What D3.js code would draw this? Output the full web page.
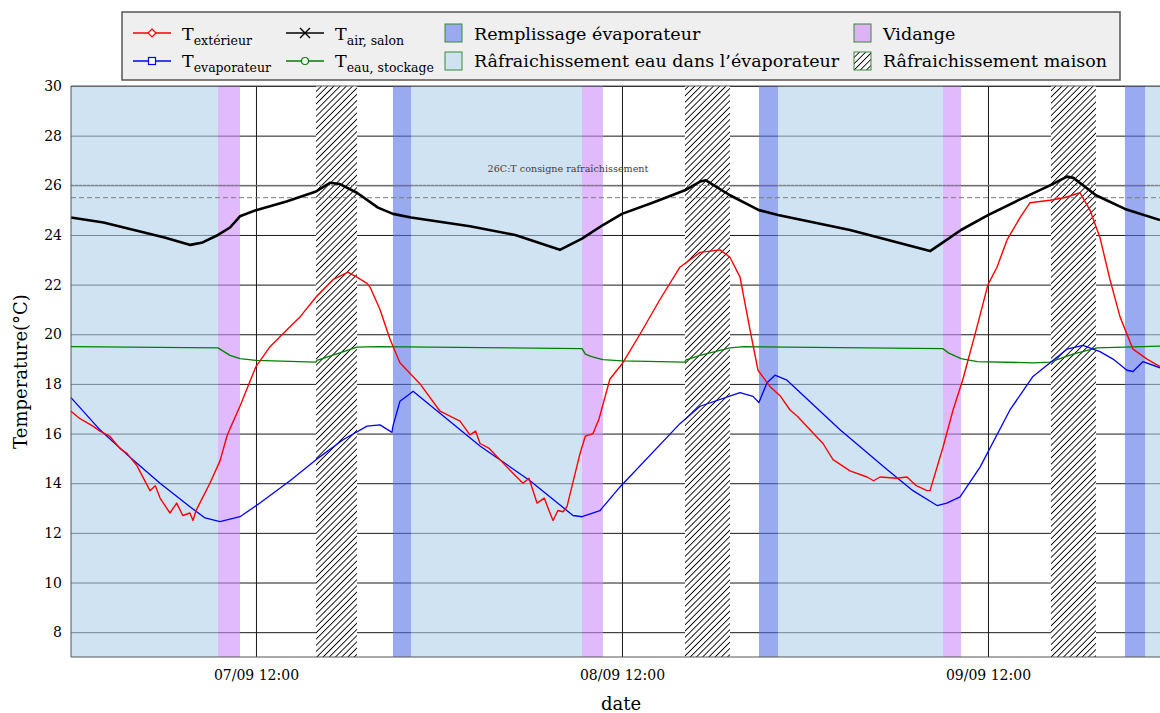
<!DOCTYPE html>
<html><head><meta charset="utf-8">
<script src="https://cdn.jsdelivr.net/npm/d3@7"></script>
<style>body{margin:0;background:#fff} svg{display:block} text{font-family:"DejaVu Serif",serif}</style>
</head><body><svg id="c" width="1160" height="713"></svg>
<script>
// ---------- DATA (hours since 07/09 00:00) ----------
const xDomainHours = [-0.13, 71.28];
const yDomain = [7, 30];
const yTickValues = [8, 10, 12, 14, 16, 18, 20, 22, 24, 26, 28, 30];
const xTickHours = [12, 36, 60];
const xTickLabels = ["07/09 12:00", "08/09 12:00", "09/09 12:00"];

const tExterieur = [[-0.13,16.9],[0.46,16.6],[1.31,16.3],[1.77,16.1],[2.4,15.9],[3.08,15.4],[3.54,15.2],[4.2,14.7],[5.05,13.7],[5.4,13.9],[5.71,13.4],[6.36,12.8],[6.8,13.2],[7.2,12.7],[7.67,12.8],[7.87,12.5],[8.07,12.9],[8.4,13.3],[8.98,14.0],[9.64,14.9],[10.1,15.9],[10.3,16.2],[10.95,17.1],[12.0,18.7],[12.92,19.5],[14.23,20.3],[14.89,20.7],[15.94,21.5],[17.05,22.2],[18.03,22.5],[18.3,22.4],[18.62,22.3],[19.28,22.05],[19.48,21.9],[20.13,21.0],[20.79,19.8],[21.44,18.85],[22.76,18.0],[24.07,16.9],[25.38,16.5],[26.03,15.95],[26.4,16.1],[26.69,15.6],[27.3,15.4],[28.0,14.95],[28.85,14.4],[29.51,14.0],[29.9,14.2],[30.43,13.2],[30.9,13.4],[31.28,12.8],[31.48,12.5],[31.8,12.9],[32.13,12.85],[32.39,13.05],[33.25,15.2],[33.6,15.9],[34.1,16.0],[34.5,16.6],[35.21,18.2],[36.0,18.8],[37.18,20.0],[38.49,21.4],[39.8,22.7],[41.12,23.3],[42.43,23.4],[43.08,23.1],[43.74,22.3],[44.39,20.2],[44.92,18.55],[45.7,17.9],[46.4,17.5],[47.02,16.95],[47.5,16.7],[48.33,16.15],[49.18,15.6],[49.84,14.95],[50.95,14.5],[52.07,14.25],[52.5,14.1],[52.92,14.25],[54.0,14.2],[54.69,14.25],[55.3,13.9],[56.0,13.7],[56.2,13.7],[57.05,15.45],[57.71,16.95],[58.36,18.2],[59.28,20.3],[60.0,22.0],[60.59,22.7],[61.25,23.8],[62.1,24.7],[62.76,25.3],[64.07,25.4],[65.0,25.5],[66.03,25.7],[66.69,25.0],[67.34,23.9],[68.0,22.2],[68.66,20.7],[69.51,19.4],[70.43,19.0],[71.28,18.7]];

const tEvaporateur = [[-0.13,17.45],[1.77,16.15],[3.74,15.05],[5.71,14.0],[7.67,13.05],[8.66,12.6],[9.64,12.45],[10.95,12.65],[12.26,13.2],[14.23,14.1],[15.94,14.95],[17.71,15.75],[19.28,16.3],[20.13,16.35],[20.92,16.05],[20.98,16.3],[21.44,17.3],[22.1,17.6],[22.3,17.7],[26.69,15.5],[29.97,14.1],[32.79,12.7],[33.38,12.65],[34.56,12.9],[35.87,13.85],[39.8,16.4],[41.12,17.1],[43.74,17.65],[44.59,17.5],[44.98,17.25],[45.51,18.05],[46.03,18.35],[46.82,18.15],[50.3,16.15],[53.38,14.55],[55.08,13.7],[56.66,13.1],[57.3,13.2],[58.17,13.45],[59.48,14.65],[61.44,16.95],[62.95,18.3],[64.07,18.85],[65.18,19.4],[66.23,19.55],[67.34,19.3],[68.2,19.0],[69.11,18.55],[69.51,18.5],[70.17,18.9],[71.28,18.65]];

const tAirSalon = [[-0.13,24.7],[2.0,24.5],[4.0,24.2],[6.0,23.9],[7.7,23.6],[8.5,23.7],[9.51,24.0],[10.3,24.3],[10.95,24.75],[12.0,25.0],[14.0,25.35],[15.94,25.75],[16.85,26.1],[17.5,26.05],[18.62,25.7],[20.0,25.1],[20.98,24.85],[22.17,24.7],[26.03,24.35],[29.0,24.0],[31.93,23.4],[33.38,23.85],[34.75,24.4],[36.0,24.85],[38.0,25.3],[40.13,25.8],[41.12,26.15],[41.5,26.2],[43.08,25.6],[44.98,25.0],[46.23,24.8],[50.95,24.2],[56.2,23.35],[57.05,23.7],[58.23,24.2],[60.0,24.8],[62.0,25.4],[64.07,26.0],[65.18,26.35],[65.6,26.3],[67.08,25.6],[68.98,25.05],[71.28,24.6]];

const tEauStockage = [[-0.13,19.5],[9.51,19.45],[9.9,19.3],[10.3,19.15],[10.95,19.02],[12.0,18.95],[15.94,18.88],[16.0,18.95],[17.5,19.25],[18.62,19.48],[20.0,19.5],[33.38,19.42],[33.6,19.2],[34.0,19.1],[34.75,18.98],[36.0,18.93],[40.13,18.88],[40.2,18.97],[41.12,19.15],[43.08,19.45],[44.0,19.5],[57.05,19.42],[57.4,19.25],[58.23,19.02],[59.3,18.9],[62.95,18.85],[64.07,18.88],[65.57,19.2],[67.15,19.45],[71.28,19.52]];

const rafraichEau = [[-0.13,9.51],[22.17,33.38],[46.23,57.05],[70.3,71.28]];
const remplissage = [[20.98,22.17],[44.98,46.23],[68.98,70.3]];
const vidange = [[9.51,10.95],[33.38,34.75],[57.05,58.23]];
const rafraichMaison = [[15.94,18.62],[40.13,43.08],[64.13,67.08]];
const consigneLines = [26, 25.5];
const consigneLabel = "26C:T consigne rafraîchissement";
const consigneLabelHour = 32.46;

// ---------- SETUP ----------
const BASE = new Date(2023, 8, 7, 0, 0, 0);
const toDate = h => new Date(BASE.getTime() + h * 3600000);
const L = 71, R = 1160, T = 86, B = 657;
const x = d3.scaleTime().domain(xDomainHours.map(toDate)).range([L, R]);
const y = d3.scaleLinear().domain(yDomain).range([B, T]);

const svg = d3.select("#c");
const defs = svg.append("defs");
const pat = defs.append("pattern").attr("id", "hatch").attr("patternUnits", "userSpaceOnUse")
  .attr("width", 4.4).attr("height", 4.4).attr("patternTransform", "rotate(45)");
pat.append("rect").attr("width", 4.4).attr("height", 4.4).attr("fill", "#fff");
pat.append("line").attr("x1", 2.2).attr("y1", 0).attr("x2", 2.2).attr("y2", 4.4).attr("stroke", "#000").attr("stroke-width", 0.9);

// grid + axes
const gy = svg.append("g").attr("transform", `translate(${L},0)`)
  .call(d3.axisLeft(y).tickValues(yTickValues).tickSize(-(R - L)).tickPadding(9).tickFormat(d3.format("d")));
gy.attr("font-family", null).attr("font-size", null);
gy.select(".domain").remove();
gy.selectAll(".tick line").attr("stroke", "#1a1a1a");
gy.selectAll(".tick text").attr("font-size", 14).attr("fill", "#000");

const gx = svg.append("g").attr("transform", `translate(0,${B})`)
  .call(d3.axisBottom(x).tickValues(xTickHours.map(toDate)).tickSize(-(B - T)).tickPadding(13)
    .tickFormat((d, i) => xTickLabels[i]));
gx.attr("font-family", null).attr("font-size", null);
gx.select(".domain").remove();
gx.selectAll(".tick line").attr("stroke", "#1a1a1a");
gx.selectAll(".tick text").attr("font-size", 14).attr("fill", "#000");

// shaded regions
function regions(data, fill, op) {
  svg.append("g").selectAll("rect").data(data).join("rect")
    .attr("x", d => x(toDate(d[0]))).attr("width", d => x(toDate(d[1])) - x(toDate(d[0])))
    .attr("y", T).attr("height", B - T).attr("fill", fill).attr("fill-opacity", op);
}
regions(rafraichEau, "rgb(177,208,235)", 0.6);
regions(remplissage, "rgb(87,113,230)", 0.6);
regions(vidange, "rgb(203,140,250)", 0.6);
regions(rafraichMaison, "url(#hatch)", 1);

// setpoint lines
svg.append("g").selectAll("line").data(consigneLines).join("line")
  .attr("x1", L).attr("x2", R).attr("y1", d => y(d)).attr("y2", d => y(d))
  .attr("stroke", "#7a7a7a").attr("stroke-width", 1)
  .attr("stroke-dasharray", (d, i) => i === 0 ? "3,1" : "5,3");
svg.append("text").attr("x", x(toDate(consigneLabelHour))).attr("y", y(consigneLines[0]) - 13)
  .attr("text-anchor", "middle").attr("font-size", 9.6).attr("fill", "#404040").text(consigneLabel);

// data lines
const line = d3.line().x(d => x(toDate(d[0]))).y(d => y(d[1]));
const series = [
  {data: tEauStockage, color: "#008000", w: 1.3},
  {data: tEvaporateur, color: "#0000ff", w: 1.3},
  {data: tAirSalon, color: "#000000", w: 2.6},
  {data: tExterieur, color: "#ff0000", w: 1.4}
];
svg.append("g").selectAll("path").data(series).join("path")
  .attr("d", d => line(d.data)).attr("fill", "none").attr("stroke", d => d.color)
  .attr("stroke-width", d => d.w).attr("stroke-linejoin", "round");

// frame
const fr = svg.append("g").attr("stroke", "#555").attr("stroke-width", 1);
fr.append("line").attr("x1", L).attr("x2", L).attr("y1", T).attr("y2", B);
fr.append("line").attr("x1", L).attr("x2", R).attr("y1", B).attr("y2", B);
fr.append("line").attr("x1", L).attr("x2", R).attr("y1", T).attr("y2", T);

// axis labels
svg.append("text").attr("transform", `translate(27,${(T + B) / 2}) rotate(-90)`).attr("text-anchor", "middle")
  .attr("font-size", 18).text("Temperature(°C)");
svg.append("text").attr("x", 621).attr("y", 710).attr("text-anchor", "middle").attr("font-size", 18).text("date");

// legend
const lg = svg.append("g");
lg.append("rect").attr("x", 122).attr("y", 12).attr("width", 998).attr("height", 68)
  .attr("fill", "#efefef").attr("stroke", "#555").attr("stroke-width", 1.5);
const rowY = [33, 61], rowBase = [40, 67];
const lineItems = [
  {main: "T", sub: "extérieur", color: "#ff0000", marker: "diamond", x0: 133, row: 0},
  {main: "T", sub: "evaporateur", color: "#0000ff", marker: "square", x0: 133, row: 1},
  {main: "T", sub: "air, salon", color: "#000000", marker: "x", x0: 286, row: 0},
  {main: "T", sub: "eau, stockage", color: "#008000", marker: "circle", x0: 286, row: 1}
];
lineItems.forEach(it => {
  const cy = rowY[it.row], cx = it.x0 + 19;
  lg.append("line").attr("x1", it.x0).attr("x2", it.x0 + 38).attr("y1", cy).attr("y2", cy)
    .attr("stroke", it.color).attr("stroke-width", 1.4);
  if (it.marker === "diamond") lg.append("path").attr("d", `M${cx},${cy-4}L${cx+4},${cy}L${cx},${cy+4}L${cx-4},${cy}Z`)
    .attr("fill", "#fff").attr("stroke", it.color).attr("stroke-width", 1.2);
  if (it.marker === "square") lg.append("rect").attr("x", cx - 3.5).attr("y", cy - 3.5).attr("width", 7).attr("height", 7)
    .attr("fill", "#fff").attr("stroke", it.color).attr("stroke-width", 1.2);
  if (it.marker === "circle") lg.append("circle").attr("cx", cx).attr("cy", cy).attr("r", 3.5)
    .attr("fill", "#fff").attr("stroke", it.color).attr("stroke-width", 1.2);
  if (it.marker === "x") lg.append("path").attr("d", `M${cx-5},${cy-5}L${cx+5},${cy+5}M${cx-5},${cy+5}L${cx+5},${cy-5}`)
    .attr("stroke", it.color).attr("stroke-width", 1.4);
  const t = lg.append("text").attr("x", it.x0 + 49).attr("y", rowBase[it.row]).attr("font-size", 17.5);
  t.append("tspan").text(it.main);
  t.append("tspan").attr("dy", 5).attr("font-size", 12.5).text(it.sub);
});
const patchItems = [
  {label: "Remplissage évaporateur", fill: "#9aaaf0", x0: 445, row: 0},
  {label: "Râfraichissement eau dans l’évaporateur", fill: "#cfe2f0", x0: 445, row: 1},
  {label: "Vidange", fill: "#dcb4f6", x0: 854, row: 0},
  {label: "Râfraichissement maison", fill: "url(#hatch)", x0: 854, row: 1}
];
patchItems.forEach(it => {
  lg.append("rect").attr("x", it.x0).attr("y", rowY[it.row] - 9).attr("width", 17).attr("height", 18)
    .attr("fill", it.fill).attr("stroke", "#3a8a3a").attr("stroke-width", 1);
  lg.append("text").attr("x", it.x0 + 29).attr("y", rowBase[it.row]).attr("font-size", 17.5).text(it.label);
});
</script></body></html>
